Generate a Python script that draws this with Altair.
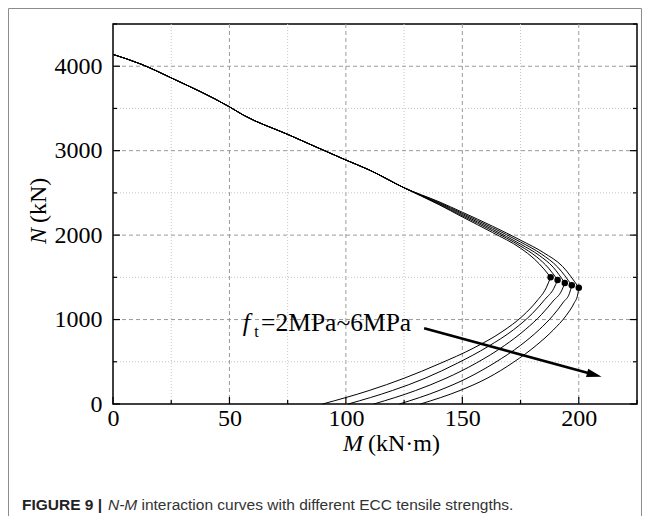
import altair as alt
import pandas as pd

SERIF = "Liberation Serif"
SANS = "Liberation Sans"

# ---------------- data ----------------
ft_values = [2, 3, 4, 5, 6]

# upper (compression-controlled) branch shared by all curves
common_M = [0, 12, 25, 50, 56, 75, 100, 110, 125]
common_N = [4140, 4025, 3862, 3519, 3421, 3193, 2889, 2772, 2560]

# balanced points (dots)
peak_M = [187.9, 190.9, 194.0, 197.0, 200.0]
peak_N = [1500, 1469, 1433, 1405, 1378]

# upper branch after the curves separate
upper_M_2 = [140, 150, 163, 175, 181, 185]
upper_N_2 = [2360, 2215, 2030, 1845, 1715, 1600]
upper_M_3 = [140, 150, 163, 175, 182, 187]
upper_N_3 = [2368, 2229, 2050, 1870, 1740, 1610]
upper_M_4 = [140, 150, 163, 175, 183, 189]
upper_N_4 = [2377, 2243, 2068, 1893, 1760, 1620]
upper_M_5 = [140, 150, 163, 175, 184, 191]
upper_N_5 = [2386, 2257, 2087, 1918, 1775, 1620]
upper_M_6 = [140, 150, 163, 175, 185, 193]
upper_N_6 = [2395, 2271, 2105, 1940, 1790, 1630]

# lower (tension-controlled) branch
lower_M_2 = [90, 110, 125, 140, 155, 167, 176, 182, 186]
lower_N_2 = [0, 160, 305, 475, 665, 855, 1045, 1220, 1375]
lower_M_3 = [101, 120, 134, 148, 161, 172, 180, 185.5, 189.3]
lower_N_3 = [0, 160, 305, 485, 680, 880, 1070, 1240, 1370]
lower_M_4 = [112, 130, 143, 156, 168, 177, 184, 189, 192.6]
lower_N_4 = [0, 160, 305, 485, 690, 880, 1060, 1220, 1340]
lower_M_5 = [123, 140, 152, 164, 175, 183, 189, 193.5, 196]
lower_N_5 = [0, 160, 305, 490, 695, 880, 1050, 1210, 1310]
lower_M_6 = [132, 149, 161, 172, 182, 189, 194.5, 198, 199.5]
lower_N_6 = [0, 160, 310, 495, 700, 875, 1045, 1195, 1290]

# annotation arrow (tail, head) in data units
arrow_M = [133.6, 209.8]
arrow_N = [898, 323]

# axes
x_major = [0, 50, 100, 150, 200]
x_minor = [25, 75, 125, 175, 225]
y_major = [0, 1000, 2000, 3000, 4000]
y_minor = [500, 1500, 2500, 3500, 4500]

# ---------------- build tables ----------------
uppers = [(upper_M_2, upper_N_2), (upper_M_3, upper_N_3), (upper_M_4, upper_N_4),
          (upper_M_5, upper_N_5), (upper_M_6, upper_N_6)]
lowers = [(lower_M_2, lower_N_2), (lower_M_3, lower_N_3), (lower_M_4, lower_N_4),
          (lower_M_5, lower_N_5), (lower_M_6, lower_N_6)]

rows = []
for ft, (uM, uN), (lM, lN), pM, pN in zip(ft_values, uppers, lowers, peak_M, peak_N):
    for m, n in zip(common_M + uM + [pM], common_N + uN + [pN]):
        rows.append({"M": m, "N": n, "series": f"upper{ft}"})
    for m, n in zip(lM + [pM], lN + [pN]):
        rows.append({"M": m, "N": n, "series": f"lower{ft}"})
curves = pd.DataFrame(rows)
peaks = pd.DataFrame({"M": peak_M, "N": peak_N, "ft": ft_values})

W, H = 524, 380
xs = alt.Scale(domain=[0, 225], nice=False, zero=False)
ys = alt.Scale(domain=[0, 4500], nice=False, zero=False)

x_axis = alt.Axis(values=x_major, title=None, grid=False, ticks=False, domain=False, format="d",
                  labelFont=SERIF, labelFontSize=24, labelColor="black",
                  labelPadding=2, labelFlush=False, labelOverlap=False)
y_axis = alt.Axis(values=y_major, title=None, grid=False, ticks=False, domain=False, format="d",
                  labelFont=SERIF, labelFontSize=24, labelColor="black",
                  labelPadding=11, labelFlush=False, labelOverlap=False)


def X(f):
    return alt.X(f, scale=xs, axis=x_axis, title=None)


def Y(f):
    return alt.Y(f, scale=ys, axis=y_axis, title=None)


# grid lines
gx_major = alt.Chart(pd.DataFrame({"M": x_major[1:]})).mark_rule(
    color="#9a9a9a", strokeWidth=1, strokeDash=[4, 3]).encode(x=X("M:Q"))
gx_minor = alt.Chart(pd.DataFrame({"M": x_minor[:-1]})).mark_rule(
    color="#c4c4c4", strokeWidth=1, strokeDash=[1, 2]).encode(x=X("M:Q"))
gy_major = alt.Chart(pd.DataFrame({"N": y_major[1:]})).mark_rule(
    color="#9a9a9a", strokeWidth=1, strokeDash=[4, 3]).encode(y=Y("N:Q"))
gy_minor = alt.Chart(pd.DataFrame({"N": y_minor[:-1]})).mark_rule(
    color="#c4c4c4", strokeWidth=1, strokeDash=[1, 2]).encode(y=Y("N:Q"))


# inward ticks
def xticks(vals, length):
    return alt.Chart(pd.DataFrame({"M": vals})).mark_rule(color="black", strokeWidth=1.2).encode(
        x=X("M:Q"), y=alt.value(H), y2=alt.value(H - length))


def yticks(vals, length, right=False):
    x0 = W if right else 0
    x1 = W - length if right else length
    return alt.Chart(pd.DataFrame({"N": vals})).mark_rule(color="black", strokeWidth=1.2).encode(
        y=Y("N:Q"), x=alt.value(x0), x2=alt.value(x1))


ticks = [xticks(x_major, 7), xticks(x_minor, 4), yticks(y_major, 7), yticks(y_minor, 4),
         yticks(y_major, 7, True), yticks(y_minor, 4, True)]

lines = alt.Chart(curves).mark_line(color="black", strokeWidth=1, interpolate="monotone").encode(
    x=X("M:Q"), y=Y("N:Q"), detail="series:N", order=alt.Order("M:Q"))

dots = alt.Chart(peaks).mark_circle(color="black", size=42, opacity=1).encode(
    x=X("M:Q"), y=Y("N:Q"))

# arrow
shaft_frac = 0.05
arrow_df = pd.DataFrame({
    "M": [arrow_M[0]], "N": [arrow_N[0]],
    "M2": [arrow_M[1] - shaft_frac * (arrow_M[1] - arrow_M[0])],
    "N2": [arrow_N[1] - shaft_frac * (arrow_N[1] - arrow_N[0])],
})
shaft = alt.Chart(arrow_df).mark_rule(color="black", strokeWidth=2.6).encode(
    x=X("M:Q"), y=Y("N:Q"), x2="M2:Q", y2="N2:Q")
head = alt.Chart(pd.DataFrame({"M": [arrow_M[1]], "N": [arrow_N[1]]})).mark_point(
    shape="M0,0L-1,-0.28L-1,0.28Z", filled=True, color="black", opacity=1, size=900, angle=15,
    strokeWidth=0).encode(x=X("M:Q"), y=Y("N:Q"))


# annotation text f_t=2MPa~6MPa
def dtext(m, n, s, size=24, style="normal"):
    return alt.Chart(pd.DataFrame({"M": [m], "N": [n], "t": [s]})).mark_text(
        font=SERIF, fontSize=size, fontStyle=style, align="left", baseline="alphabetic",
        color="black").encode(x=X("M:Q"), y=Y("N:Q"), text="t:N")


ann = [dtext(55.7, 860, "f", 25, "italic"), dtext(60.6, 790, "t", 16),
       dtext(63.6, 860, "=2MPa~6MPa", 25.5)]


# axis titles and caption (pixel placed)
def ptext(x, y, s, font=SERIF, size=24, style="normal", weight="normal", color="black", angle=0):
    return alt.Chart(pd.DataFrame({"t": [s]})).mark_text(
        font=font, fontSize=size, fontStyle=style, fontWeight=weight, align="left",
        baseline="alphabetic", color=color, angle=angle).encode(
        x=alt.value(x), y=alt.value(y), text="t:N")


titles = [
    ptext(230, 427, "M", style="italic"),
    ptext(255, 427, "(kN·m)"),
    ptext(-67, 220, "N", style="italic", angle=270),
    ptext(-67, 199, "(kN)", angle=270),
    ptext(-91, 486, "FIGURE 9 |", font=SANS, size=15.5, weight="bold", color="#222222"),
    ptext(-5, 486, "N-M", font=SANS, size=15.5, style="italic", color="#333333"),
    ptext(28.5, 486, "interaction curves with different ECC tensile strengths.", font=SANS,
          size=15.5, color="#333333"),
]

frame = alt.Chart(pd.DataFrame({"a": [0]})).mark_rect(
    fill=None, stroke="#8c8c8c", strokeWidth=1).encode(
    x=alt.value(-104.5), x2=alt.value(528.5), y=alt.value(-15.5), y2=alt.value(560))

chart = alt.layer(
    frame, gx_minor, gx_major, gy_minor, gy_major, *ticks, lines, dots, shaft, head, *ann, *titles
).properties(
    width=W, height=H,
    autosize=alt.AutoSizeParams(type="none"),
    padding={"left": 105, "top": 16, "right": 6, "bottom": 112},
).configure_view(
    stroke="black", strokeWidth=1.5
).configure_axis(grid=False)

chart.save("out.html", embed_options={"renderer": "svg", "actions": False})
